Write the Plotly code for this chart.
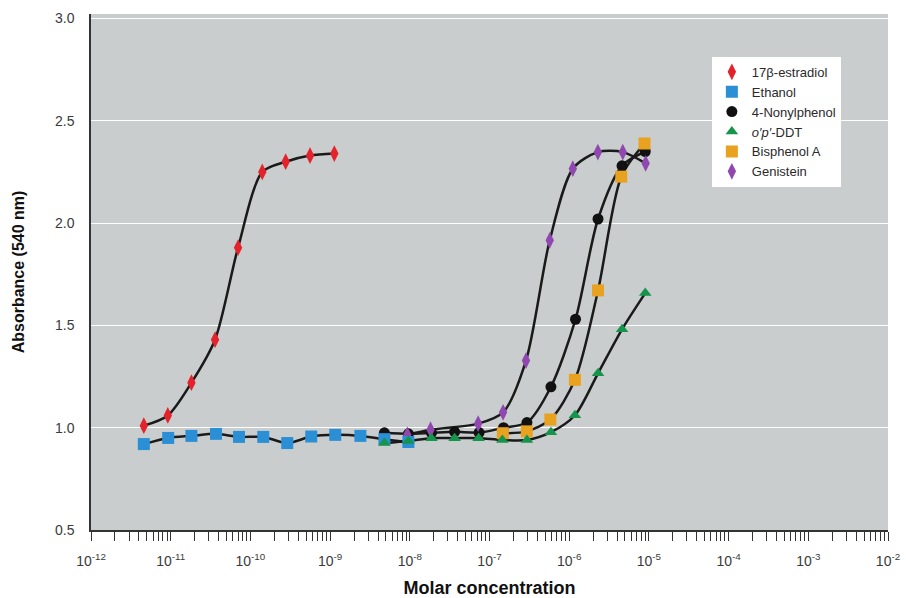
import plotly.graph_objects as go

# ---------------- data ----------------
estradiol_x = [4.6e-12, 9.2e-12, 1.82e-11, 3.6e-11, 7.0e-11, 1.41e-10, 2.77e-10, 5.6e-10, 1.13e-9]
estradiol_y = [1.01, 1.06, 1.22, 1.43, 1.88, 2.25, 2.30, 2.33, 2.34]

ethanol_x = [4.6e-12, 9.3e-12, 1.82e-11, 3.7e-11, 7.2e-11, 1.45e-10, 2.9e-10, 5.8e-10,
             1.16e-9, 2.4e-9, 4.8e-9, 9.6e-9]
ethanol_y = [0.92, 0.95, 0.96, 0.97, 0.955, 0.955, 0.925, 0.957, 0.965, 0.96, 0.944, 0.93]

nonyl_x = [4.8e-9, 9.6e-9, 1.87e-8, 3.65e-8, 7.4e-8, 1.5e-7, 2.95e-7, 5.9e-7,
           1.2e-6, 2.3e-6, 4.6e-6, 9.0e-6]
nonyl_y = [0.975, 0.97, 0.975, 0.98, 0.976, 1.00, 1.025, 1.20, 1.53, 2.02, 2.28, 2.35]

ddt_x = [4.8e-9, 9.6e-9, 1.87e-8, 3.65e-8, 7.3e-8, 1.45e-7, 2.95e-7, 5.9e-7,
         1.18e-6, 2.3e-6, 4.6e-6, 9.0e-6]
ddt_y = [0.925, 0.935, 0.949, 0.949, 0.949, 0.94, 0.94, 0.978, 1.061, 1.266, 1.481, 1.658]

bisphenol_x = [1.47e-7, 2.94e-7, 5.8e-7, 1.18e-6, 2.3e-6, 4.5e-6, 8.8e-6]
bisphenol_y = [0.973, 0.982, 1.04, 1.234, 1.671, 2.227, 2.389]

genistein_x = [9.3e-9, 1.82e-8, 7.2e-8, 1.48e-7, 2.87e-7, 5.7e-7, 1.11e-6, 2.29e-6, 4.7e-6, 9.1e-6]
genistein_y = [0.965, 0.99, 1.02, 1.075, 1.328, 1.916, 2.266, 2.347, 2.347, 2.292]

names = ["17β-estradiol", "Ethanol", "4-Nonylphenol", "<i>o′p′</i>-DDT", "Bisphenol A", "Genistein"]

x_decades = list(range(-12, -1))
x_tick_labels = ["10<sup>%d</sup>" % d for d in x_decades]
y_ticks = [0.5, 1.0, 1.5, 2.0, 2.5, 3.0]

# ---------------- styling ----------------
series = [
    dict(name=names[2], x=nonyl_x, y=nonyl_y, symbol="circle", size=11, color="#111111", rank=3),
    dict(name=names[5], x=genistein_x, y=genistein_y, symbol="diamond-tall", size=12, color="#9048b0", rank=6),
    dict(name=names[4], x=bisphenol_x, y=bisphenol_y, symbol="square", size=12, color="#e9a21f", rank=5),
    dict(name=names[1], x=ethanol_x, y=ethanol_y, symbol="square", size=12, color="#2b8fd6", rank=2),
    dict(name=names[3], x=ddt_x, y=ddt_y, symbol="triangle-up", size=11, color="#15944c", rank=4),
    dict(name=names[0], x=estradiol_x, y=estradiol_y, symbol="diamond-tall", size=12, color="#e3222b", rank=1),
]

fig = go.Figure()

for s in series:
    fig.add_trace(go.Scatter(
        x=s["x"], y=s["y"], mode="lines",
        line=dict(color="#1a1a1a", width=2.5, shape="spline", smoothing=0.8),
        showlegend=False, hoverinfo="skip",
    ))

for s in series:
    fig.add_trace(go.Scatter(
        x=s["x"], y=s["y"], mode="markers", name=s["name"], legendrank=s["rank"],
        marker=dict(symbol=s["symbol"], size=s["size"], color=s["color"], line=dict(width=0)),
    ))

major_vals = [10.0 ** d for d in x_decades]

fig.update_layout(
    width=906, height=598,
    margin=dict(l=91, r=18, t=14, b=68),
    paper_bgcolor="white",
    plot_bgcolor="#c9cdcd",
    font=dict(family="Liberation Sans, Arial, sans-serif", color="#333333"),
    legend=dict(
        x=0.779, y=0.917, xanchor="left", yanchor="top",
        bgcolor="white", borderwidth=0,
        font=dict(size=13, color="#2a2a2a", family="Liberation Sans, Arial, sans-serif"),
        itemwidth=30, tracegroupgap=0,
    ),
    xaxis=dict(
        type="log", range=[-12, -2], automargin=False,
        tickmode="array", tickvals=major_vals, ticktext=x_tick_labels,
        ticks="outside", ticklen=9, tickwidth=1.2, tickcolor="#333333",
        minor=dict(dtick="D1", ticks="outside", ticklen=9, tickwidth=1.2,
                   tickcolor="#333333", showgrid=False),
        showgrid=False, zeroline=False,
        showline=True, linecolor="#333333", linewidth=1.5,
        ticklabelstandoff=8,
        tickfont=dict(family="Liberation Sans, Arial, sans-serif", size=14, color="#3a3a3a"),
        title=dict(text="<b>Molar concentration</b>", standoff=14,
                   font=dict(family="Liberation Sans, Arial, sans-serif", size=18, color="#111111")),
    ),
    yaxis=dict(
        range=[0.5, 3.022], tickvals=y_ticks, tickformat=".1f", automargin=False,
        ticks="", showgrid=True, gridcolor="white", gridwidth=1.2,
        zeroline=False, showline=True, linecolor="#333333", linewidth=1.5,
        tickfont=dict(family="Liberation Sans, Arial, sans-serif", size=14, color="#3a3a3a"),
        ticklabelstandoff=12,
        title=dict(text="<b>Absorbance (540 nm)</b>", standoff=26,
                   font=dict(family="Liberation Sans, Arial, sans-serif", size=16, color="#111111")),
    ),
)

fig.write_html(
    "out.html",
    config={"displayModeBar": False},
    post_script="document.body.style.margin='0';document.body.style.padding='0';",
)
